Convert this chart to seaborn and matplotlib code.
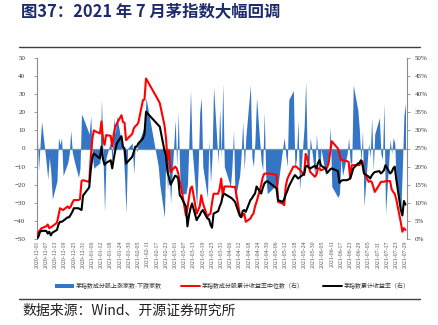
import numpy as np
import pandas as pd
import matplotlib
matplotlib.use("Agg")
import matplotlib.pyplot as plt
from matplotlib.lines import Line2D
from matplotlib.patches import Patch
from matplotlib.ticker import FuncFormatter
import seaborn as sns

# Trading calendar: weekdays minus exchange holidays
holidays = ["2021-01-01", "2021-02-11", "2021-02-12", "2021-02-15", "2021-02-16",
            "2021-02-17", "2021-04-05", "2021-05-03", "2021-05-04", "2021-05-05",
            "2021-06-14"]
dates = pd.bdate_range("2020-12-01", "2021-07-29")
dates = dates[~dates.isin(pd.to_datetime(holidays))]

# Advancers minus decliners among index constituents (left axis)
breadth = [
    # Dec
    12, -12, 2, 15, -8, -17, -5, -13, -28, -18, 6, 2, 6, -15, -8, -3, 10, -2, -6, -16, -11, 19, 17,
    # Jan
    8, 18, -4, -11, -10, -8, 27, -5, -35, -5, 4, -8, 17, 8, 18, 3, 0, -15, -36, 0,
    # Feb
    3, -14, 2, -2, 3, 10, 12, 28, -10, -20, -38, 0, -23, -10, -30,
    # Mar
    16, -10, 20, -15, -25, -25, -20, 5, 32, 0, -32, -10, 20, 28, -10, -27, 5, -19, -5, 34, -8, 22, -5,
    # Apr
    36, -10, -21, -10, 10, -28, -15, -3, 15, -12, 6, 35, -5, -10, 5, 28, -7, -12, 20, -15, -25,
    # May
    -20, -20, 0, 6, -3, -10, 27, 32, -12, -5, 16, -23, 12, 37, -5, -12, 6, -15,
    # Jun
    8, -5, -15, 0, -15, -10, -5, 12, -21, -27, -25, -5, -15, -3, 6, -8, -8, 35, 21, 10, -8,
    # Jul
    10, -32, 3, -5, 17, -12, 8, 17, -3, -6, 25, -36, 5, -3, 6, 3, -20, -34, -10, 18, 25,
]

# Median cumulative return of constituents, % (right axis)
median_ret = [
    0.5, 2, 2.5, 3, 3.5, 4, 3, 3.25, 3.5, 4.5, 6.5, 8.5, 8.25, 8, 9, 8.5, 9, 10, 10.75, 10.75, 11, 16, 16.25,
    15.75, 22.5, 27.5, 30, 29.75, 29.15, 32.5, 27.5, 26, 28.7, 28.5, 25.5, 29, 31, 31.9, 34.2, 32.35, 32.1, 27.3, 27.75,
    29, 30.5, 31.15, 31.5, 32.1, 38.35, 38.5, 44.35, 38.35, 37.5, 31.5, 28, 22, 24.5, 18.5,
    20, 19.5, 18.1, 15.8, 14, 6.5, 8.5, 11.5, 14, 14.5, 7, 8, 9, 12.1, 10, 6.1, 6.75, 7, 10, 12.5, 12.5, 14, 16.7,
    11.65, 14.5, 14.5, 14.4, 14.4, 14.4, 7, 6.1, 6.5, 7, 4.75, 5.65, 6.5, 7, 9, 10.25, 14.85, 17, 18, 18.1, 18.1,
    17.75, 10.25, 9.8, 9.35, 14.5, 16.5, 17.5, 20, 20, 20, 19.5, 19.25, 17.65, 23.5, 22.5, 20, 18.5, 17.2,
    17.75, 19.5, 19.5, 19, 19.5, 19.75, 21, 24, 27, 25, 23.5, 21.8, 21.8, 21.5, 21.25, 16.7, 20.4, 20.4, 20.4, 20.4, 21.25,
    21.5, 18.5, 15.8, 16, 15.8, 14.5, 13, 15, 15.8, 15.8, 15.8, 16, 16, 13.75, 13, 12.5, 11, 4.5, 2, 3, 2.5,
]

# Cumulative return of the index itself, % (right axis)
index_ret = [
    0, 0.75, 2, 2.25, 2.25, 1.5, 2, 1, 1.75, 2.5, 4, 4.75, 4.75, 5, 6, 6, 6.75, 7.5, 8.5, 8.5, 8.25, 8, 12,
    14.25, 19, 22.5, 23.6, 23.25, 22.25, 25.5, 22, 20.5, 21, 21.75, 19.5, 22.25, 24.5, 26.4, 28.4, 25.5, 25, 20.85, 21.3,
    22.7, 24, 25.5, 25.5, 26.4, 27.75, 29, 35.15, 31.5, 31, 24.5, 23, 18.5, 17, 15,
    17.5, 17.25, 16.7, 12.1, 11.5, 9, 3.5, 6.5, 8.5, 9.8, 5.2, 6, 6.6, 7.5, 8, 5.65, 5.5, 4, 3.1, 7, 7.7, 9, 10,
    12, 12.5, 11.5, 11.2, 10.75, 10.25, 6.5, 6, 7.75, 8, 7.5, 10.75, 11.25, 12, 12.55, 14.5, 12.55, 14, 15.25, 15.75, 16,
    14, 10.75, 10.25, 11, 12.25, 13.25, 14.5, 17, 17.65, 17.25, 16.7, 17, 18, 20, 20.25, 19.75, 19.5, 20.25,
    19.5, 21, 21.8, 20.25, 19.5, 18.25, 18.75, 19.25, 19.5, 18.75, 15.5, 16, 16.25, 16.25, 16.5, 16.7, 18, 19.5, 20.85, 21, 21.75,
    20.5, 18.1, 17.25, 16.7, 17.5, 18.1, 18.5, 18.75, 18.1, 18.5, 19, 20.4, 18.1, 18.5, 19.5, 20, 16.5, 8, 6.5, 10.5, 9.5,
]

legend_labels = ["茅指数成分股上涨家数-下跌家数",
                 "茅指数成分股累计收益率中位数（右）",
                 "茅指数累计收益率（右）"]
title = "图37：2021 年 7 月茅指数大幅回调"
source = "数据来源：Wind、开源证券研究所"

df = pd.DataFrame({"date": dates, "breadth": breadth,
                   "median_ret": median_ret, "index_ret": index_ret})

sns.set_theme(style="white")
plt.rcParams["font.family"] = ["Noto Sans CJK SC", "DejaVu Sans"]

BLUE = "#3575C5"
GRID = "#8C8C8C"
fig = plt.figure(figsize=(4.38, 3.25), dpi=100)
ax = fig.add_axes([37 / 438, 1 - 239 / 325, 370 / 438, 181 / 325])

ax.fill_between(df["date"], df["breadth"], 0, color=BLUE, lw=0, zorder=2)
ax.axhline(0, color=GRID, lw=0.9, zorder=3)
ax.set_ylim(-50, 50)
ax.set_yticks(range(-50, 51, 10))
ax.set_xlim(pd.Timestamp("2020-12-01"), pd.Timestamp("2021-07-30"))

ax2 = ax.twinx()
sns.lineplot(data=df, x="date", y="median_ret", ax=ax2, color="#FF0000", lw=1.5, zorder=4)
sns.lineplot(data=df, x="date", y="index_ret", ax=ax2, color="#000000", lw=1.5, zorder=5)
ax2.set_ylim(0, 50)
ax2.set_yticks(range(0, 51, 5))
ax2.yaxis.set_major_formatter(FuncFormatter(lambda v, p: f"{int(v)}%"))
ax2.set_ylabel("")
ax.set_ylabel("")
ax2.set_xlim(ax.get_xlim())

ticks = pd.date_range("2020-12-01", "2021-07-29", freq="6D")
ax.set_xticks(ticks)
ax.set_xticklabels([t.strftime("%Y-%m-%d") for t in ticks], rotation=90,
                   fontsize=4.2, color="#505050", family="Liberation Serif")
ax2.set_xlabel("")
ax.set_xlabel("")

for a in (ax, ax2):
    for s in ("top", "bottom"):
        a.spines[s].set_visible(False)
    a.spines["left"].set_visible(a is ax)
    a.spines["right"].set_visible(a is ax2)
    a.spines["left"].set_color(GRID)
    a.spines["right"].set_color(GRID)
    a.spines["left"].set_linewidth(0.8)
    a.spines["right"].set_linewidth(0.8)
    a.grid(False)

ax.tick_params(axis="y", length=2.5, width=0.6, color=GRID, pad=6, labelsize=5,
               labelcolor="#333333", left=True)
ax2.tick_params(axis="y", length=2.5, width=0.6, color=GRID, pad=3, labelsize=5,
                labelcolor="#333333", right=True)
ax.tick_params(axis="x", length=0, pad=1)
for lab in ax.get_yticklabels() + ax2.get_yticklabels():
    lab.set_family("Liberation Serif")

handles = [Patch(facecolor=BLUE, edgecolor="none"),
           Line2D([], [], color="#FF0000", lw=1.4),
           Line2D([], [], color="#000000", lw=1.4)]
fig.legend(handles, legend_labels, loc="center", bbox_to_anchor=(0.53, 1 - 286 / 325),
           ncol=3, frameon=False, fontsize=4.3, handlelength=3.2, handleheight=0.5,
           columnspacing=3.2, handletextpad=0.3, labelcolor="#333333")

fig.text(21 / 438, 1 - 11 / 325, title, ha="left", va="center", fontsize=11.8,
         fontweight="bold", color="#1F2C6B")
fig.add_artist(Line2D([19 / 438, 420 / 438], [1 - 47 / 325] * 2, color="#404040", lw=1.0))
fig.add_artist(Line2D([19 / 438, 420 / 438], [1 - 299 / 325] * 2, color="#404040", lw=1.0))
fig.text(22 / 438, 1 - 311 / 325, source, ha="left", va="center", fontsize=10,
         color="#222222")

fig.savefig("out.png", dpi=100)
